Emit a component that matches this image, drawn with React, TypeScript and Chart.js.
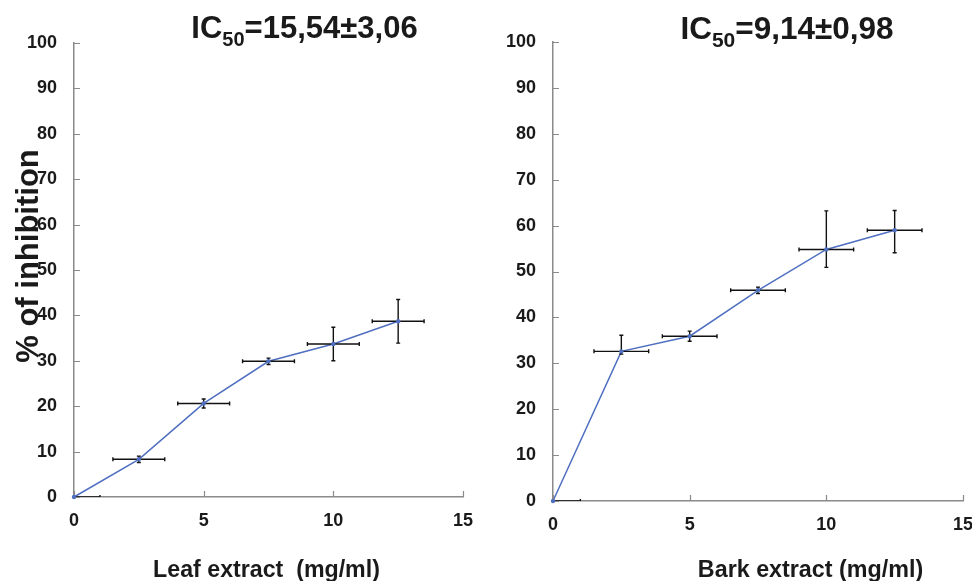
import React, { useEffect, useRef } from "react";
import { Chart, registerables } from "chart.js";

Chart.register(...registerables);

// ---- data ----
const concentrations = [0, 2.5, 5, 7.5, 10, 12.5];
const concentrationError = [1, 1, 1, 1, 1, 1];

const leafInhibition = [0, 8.3, 20.6, 29.9, 33.7, 38.7];
const leafErrorUp = [0, 0.7, 1.0, 0.7, 3.7, 4.8];
const leafErrorDown = [0, 0.7, 1.0, 0.7, 3.7, 4.8];

const barkInhibition = [0, 32.6, 35.9, 45.9, 54.8, 59.0];
const barkErrorUp = [0, 3.5, 1.1, 0.7, 8.4, 4.3];
const barkErrorDown = [0, 0.6, 1.1, 0.7, 3.9, 4.9];

const yTickValues = [0, 10, 20, 30, 40, 50, 60, 70, 80, 90, 100];
const xTickValues = [0, 5, 10, 15];

const leafTitleParts = ["IC", "50", "=15,54±3,06"];
const barkTitleParts = ["IC", "50", "=9,14±0,98"];
const leafAxisLabel = "Leaf extract  (mg/ml)";
const barkAxisLabel = "Bark extract (mg/ml)";
const yAxisLabel = "% of inhibition";

const FONT = "'Liberation Sans', Arial, Helvetica, sans-serif";
const LINE_BLUE = "#4f6fc0";
const AXIS_GRAY = "#8a8a8a";
const TEXT = "#1a1a1a";
const W = 486;
const H = 581;

type PanelProps = {
  values: number[];
  errUp: number[];
  errDown: number[];
  titleParts: string[];
  xLabel: string;
  showYLabel: boolean;
  area: { left: number; right: number; top: number; bottom: number };
  titleCenter: number;
  titleBaseline: number;
  titleSize: number;
  xLabelCenter: number;
  xLabelBaseline: number;
  xLabelSize: number;
};

function Panel(p: PanelProps) {
  const ref = useRef<HTMLCanvasElement | null>(null);

  useEffect(() => {
    if (!ref.current) return;
    const decor = {
      id: "decor",
      afterDatasetsDraw(chart: any) {
        const ctx = chart.ctx as CanvasRenderingContext2D;
        const xs = chart.scales.x;
        const ys = chart.scales.y;
        const ca = chart.chartArea;
        // inward tick marks
        ctx.save();
        ctx.strokeStyle = AXIS_GRAY;
        ctx.lineWidth = 1.2;
        ctx.beginPath();
        yTickValues.forEach((v) => {
          const y = Math.round(ys.getPixelForValue(v)) + 0.5;
          ctx.moveTo(ca.left, y);
          ctx.lineTo(ca.left + 6, y);
        });
        xTickValues.forEach((v) => {
          const x = Math.round(xs.getPixelForValue(v)) + 0.5;
          ctx.moveTo(x, ca.bottom);
          ctx.lineTo(x, ca.bottom - 6);
        });
        ctx.stroke();
        ctx.restore();

        // error bars
        ctx.save();
        ctx.beginPath();
        ctx.rect(ca.left, ca.top - 20, ca.right - ca.left + 20, ca.bottom - ca.top + 20);
        ctx.clip();
        ctx.strokeStyle = "#111111";
        ctx.lineWidth = 1.4;
        const cap = 2;
        concentrations.forEach((cx, i) => {
          const v = p.values[i];
          const px = xs.getPixelForValue(cx);
          const py = ys.getPixelForValue(v);
          const xl = xs.getPixelForValue(cx - concentrationError[i]);
          const xr = xs.getPixelForValue(cx + concentrationError[i]);
          ctx.beginPath();
          ctx.moveTo(xl, py);
          ctx.lineTo(xr, py);
          ctx.moveTo(xl, py - cap);
          ctx.lineTo(xl, py + cap);
          ctx.moveTo(xr, py - cap);
          ctx.lineTo(xr, py + cap);
          if (p.errUp[i] > 0 || p.errDown[i] > 0) {
            const yt = ys.getPixelForValue(v + p.errUp[i]);
            const yb = ys.getPixelForValue(v - p.errDown[i]);
            ctx.moveTo(px, yt);
            ctx.lineTo(px, yb);
            ctx.moveTo(px - cap, yt);
            ctx.lineTo(px + cap, yt);
            ctx.moveTo(px - cap, yb);
            ctx.lineTo(px + cap, yb);
          }
          ctx.stroke();
        });
        ctx.restore();

        // redraw points on top
        ctx.save();
        ctx.fillStyle = LINE_BLUE;
        concentrations.forEach((cx, i) => {
          const px = xs.getPixelForValue(cx);
          const py = ys.getPixelForValue(p.values[i]);
          ctx.beginPath();
          ctx.arc(px, py, 2.2, 0, Math.PI * 2);
          ctx.fill();
        });
        ctx.restore();
      },
      afterDraw(chart: any) {
        const ctx = chart.ctx as CanvasRenderingContext2D;
        ctx.save();
        ctx.fillStyle = TEXT;
        ctx.textBaseline = "alphabetic";
        ctx.textAlign = "left";
        // title with subscript
        const big = `bold ${p.titleSize}px ${FONT}`;
        const small = `bold ${Math.round(p.titleSize * 0.66)}px ${FONT}`;
        ctx.font = big;
        const w0 = ctx.measureText(p.titleParts[0]).width;
        const w2 = ctx.measureText(p.titleParts[2]).width;
        ctx.font = small;
        const w1 = ctx.measureText(p.titleParts[1]).width;
        let x = p.titleCenter - (w0 + w1 + w2) / 2;
        ctx.font = big;
        ctx.fillText(p.titleParts[0], x, p.titleBaseline);
        x += w0;
        ctx.font = small;
        ctx.fillText(p.titleParts[1], x, p.titleBaseline + p.titleSize * 0.27);
        x += w1;
        ctx.font = big;
        ctx.fillText(p.titleParts[2], x, p.titleBaseline);

        // x axis label
        ctx.font = `bold ${p.xLabelSize}px ${FONT}`;
        ctx.textAlign = "center";
        ctx.fillText(p.xLabel, p.xLabelCenter, p.xLabelBaseline);

        // y axis label
        if (p.showYLabel) {
          ctx.translate(38, 256);
          ctx.rotate(-Math.PI / 2);
          ctx.font = `bold 31px ${FONT}`;
          ctx.textAlign = "center";
          ctx.fillText(yAxisLabel, 0, 0);
        }
        ctx.restore();
      },
    };

    const a = p.area;
    const chart = new Chart(ref.current, {
      type: "line",
      data: {
        datasets: [
          {
            data: concentrations.map((c, i) => ({ x: c, y: p.values[i] })),
            borderColor: LINE_BLUE,
            backgroundColor: LINE_BLUE,
            borderWidth: 1.5,
            pointRadius: 0,
            tension: 0,
            clip: 6,
          },
        ],
      },
      options: {
        animation: false,
        responsive: false,
        events: [],
        layout: { padding: { left: 0, top: a.top, right: W - a.right, bottom: 0 } },
        plugins: { legend: { display: false }, tooltip: { enabled: false }, title: { display: false } },
        scales: {
          x: {
            type: "linear",
            min: 0,
            max: 15,
            afterBuildTicks: (s: any) => {
              s.ticks = xTickValues.map((v) => ({ value: v }));
            },
            afterFit: (s: any) => {
              s.height = H - a.bottom;
              s.paddingLeft = 0;
              s.paddingRight = 0;
            },
            grid: { display: true, drawOnChartArea: false, drawTicks: false },
            border: { display: true, color: AXIS_GRAY, width: 1.5 },
            ticks: {
              padding: 13,
              color: TEXT,
              font: { family: FONT, size: 18, weight: "bold" },
              maxRotation: 0,
              autoSkip: false,
            },
          },
          y: {
            type: "linear",
            min: 0,
            max: 100,
            afterBuildTicks: (s: any) => {
              s.ticks = yTickValues.map((v) => ({ value: v }));
            },
            afterFit: (s: any) => {
              s.width = a.left;
              s.paddingTop = 0;
              s.paddingBottom = 0;
            },
            grid: { display: true, drawOnChartArea: false, drawTicks: false },
            border: { display: true, color: AXIS_GRAY, width: 1.5 },
            ticks: {
              padding: 17,
              color: TEXT,
              font: { family: FONT, size: 18, weight: "bold" },
              autoSkip: false,
            },
          },
        },
      },
      plugins: [decor],
    } as any);
    return () => chart.destroy();
  }, []);

  return <canvas ref={ref} width={W} height={H} style={{ width: W, height: H, display: "block" }} />;
}

export default function App() {
  return (
    <div style={{ position: "absolute", left: 0, top: 0, width: 972, height: 581, overflow: "hidden", background: "#fff", display: "flex" }}>
      <Panel
        values={leafInhibition}
        errUp={leafErrorUp}
        errDown={leafErrorDown}
        titleParts={leafTitleParts}
        xLabel={leafAxisLabel}
        showYLabel={true}
        area={{ left: 74, right: 463, top: 43, bottom: 497 }}
        titleCenter={304.5}
        titleBaseline={37.5}
        titleSize={31}
        xLabelCenter={266.5}
        xLabelBaseline={577}
        xLabelSize={23.2}
      />
      <Panel
        values={barkInhibition}
        errUp={barkErrorUp}
        errDown={barkErrorDown}
        titleParts={barkTitleParts}
        xLabel={barkAxisLabel}
        showYLabel={false}
        area={{ left: 67, right: 477, top: 42, bottom: 501 }}
        titleCenter={301}
        titleBaseline={38.5}
        titleSize={31.5}
        xLabelCenter={324.5}
        xLabelBaseline={577}
        xLabelSize={23.3}
      />
    </div>
  );
}
